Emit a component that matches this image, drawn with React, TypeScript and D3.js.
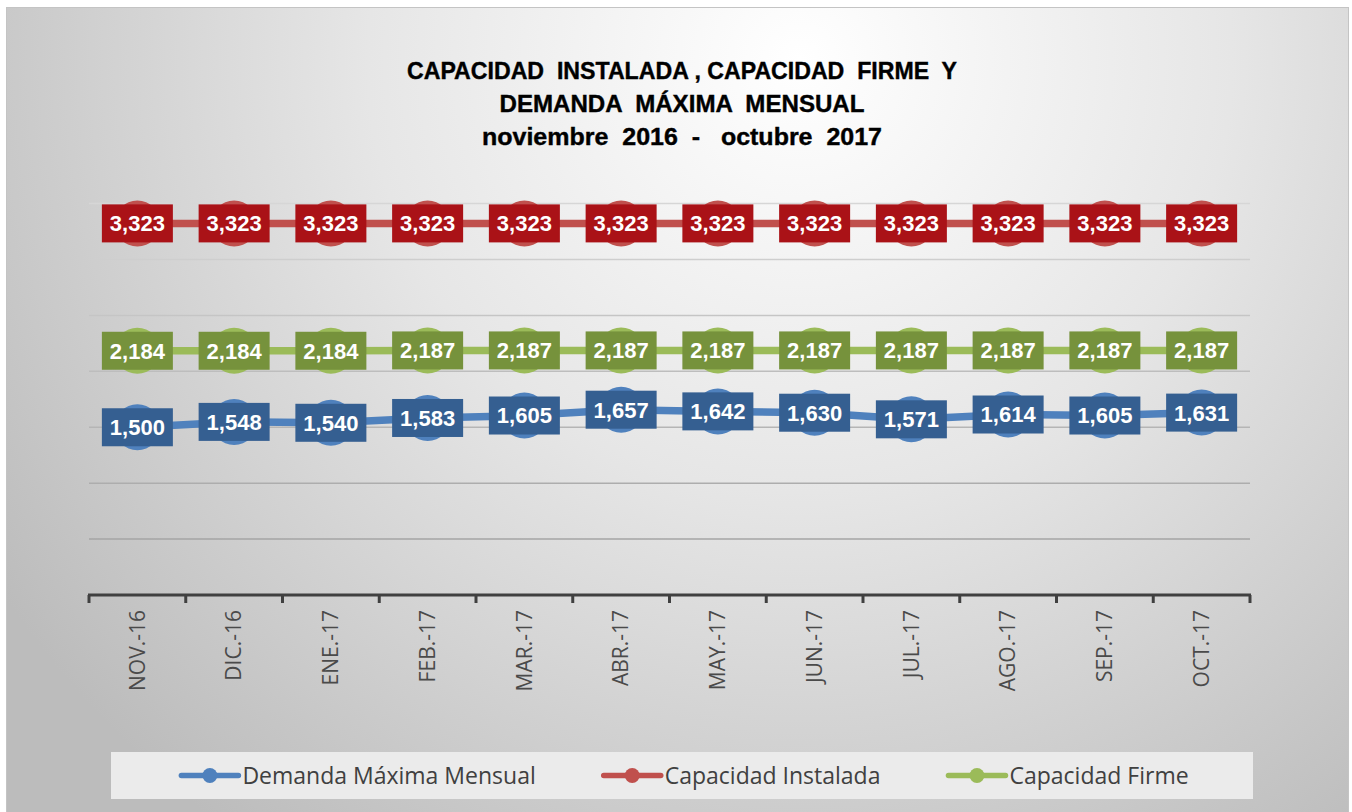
import React from 'react';
import * as d3 from 'd3';

// chart data
const months = ['NOV.-16', 'DIC.-16', 'ENE.-17', 'FEB.-17', 'MAR.-17', 'ABR.-17', 'MAY.-17', 'JUN.-17', 'JUL.-17', 'AGO.-17', 'SEP.-17', 'OCT.-17'];
const demandaMaxima = [1500, 1548, 1540, 1583, 1605, 1657, 1642, 1630, 1571, 1614, 1605, 1631];
const capacidadInstalada = [3323, 3323, 3323, 3323, 3323, 3323, 3323, 3323, 3323, 3323, 3323, 3323];
const capacidadFirme = [2184, 2184, 2184, 2187, 2187, 2187, 2187, 2187, 2187, 2187, 2187, 2187];
const gridTicks = [0, 500, 1000, 1500, 2000, 2500, 3000, 3500];
const titleLines = [
  'CAPACIDAD  INSTALADA , CAPACIDAD  FIRME  Y',
  'DEMANDA  MÁXIMA  MENSUAL',
  'noviembre  2016  -   octubre  2017',
];

const series = [
  { name: 'Demanda Máxima Mensual', values: demandaMaxima, line: '#4f81bd', box: '#355f91' },
  { name: 'Capacidad Instalada', values: capacidadInstalada, line: '#c0504d', box: '#aa1217' },
  { name: 'Capacidad Firme', values: capacidadFirme, line: '#9bbb59', box: '#76923c' },
];

const W = 1352;
const H = 812;
const margin = { left: 89, right: 102, top: 203.6, bottom: 217 };

const legendFont = '23px "Open Sans"';

function measure(text, font) {
  const ctx = document.createElement('canvas').getContext('2d');
  ctx.font = font;
  return ctx.measureText(text).width;
}

export default function App() {
  const x = d3.scaleBand().domain(months).range([margin.left, W - margin.right]);
  const y = d3.scaleLinear().domain([0, 3500]).range([H - margin.bottom, margin.top]);
  const fmt = d3.format(',');
  const gridColor = d3.scaleLinear().domain([0, 3500]).range(['#9c9c9c', '#d6d6d6']);

  const line = d3.line()
    .x((d, i) => x(months[i]) + x.bandwidth() / 2)
    .y(d => y(d));

  // legend layout: symbol 57px, gap 4px, text, 68px gap
  const itemWidths = series.map(s => 61 + measure(s.name, legendFont));
  const gap = 68;
  const totalLegend = d3.sum(itemWidths) + gap * (series.length - 1);
  let lx = 685 - totalLegend / 2;
  const legendPos = itemWidths.map(w => { const p = lx; lx += w + gap; return p; });

  const boxW = 71, boxH = 38;

  return (
    <svg width={W} height={H} style={{ position: 'absolute', left: 0, top: 0 }}>
      <defs>
        <radialGradient id="bg" gradientUnits="userSpaceOnUse" cx="800" cy="60" r="960">
          <stop offset="0" stopColor="#ffffff" />
          <stop offset="0.45" stopColor="#e6e6e6" />
          <stop offset="1" stopColor="#bcbcbc" />
        </radialGradient>
      </defs>
      <rect x={0} y={0} width={W} height={H} fill="#fff" />
      <rect x={6.5} y={7.5} width={1342} height={H} fill="url(#bg)" stroke="#c4c4c4" strokeWidth={1} />

      {/* title */}
      <g fontFamily='"Liberation Sans", Arial, sans-serif' fontWeight="bold" fontSize={24} fill="#000" textAnchor="middle"
        stroke="#000" strokeWidth={0.4}>
        {titleLines.map((t, i) => (
          <text key={i} x={682} y={79 + i * 33} style={{ whiteSpace: 'pre' }}
            textLength={[550, 365, 400][i]} lengthAdjust="spacingAndGlyphs">{t}</text>
        ))}
      </g>

      {/* gridlines */}
      {gridTicks.filter(t => t > 0).map(t => (
        <line key={t} x1={margin.left} x2={W - margin.right} y1={y(t)} y2={y(t)}
          stroke={gridColor(t)} strokeWidth={1.5} />
      ))}

      {/* x axis */}
      <line x1={margin.left - 1} x2={W - margin.right + 1} y1={y(0)} y2={y(0)} stroke="#404040" strokeWidth={3} />
      {d3.range(months.length + 1).map(i => {
        const tx = margin.left + i * x.step();
        return <line key={i} x1={tx} x2={tx} y1={y(0)} y2={y(0) + 8} stroke="#404040" strokeWidth={3} />;
      })}
      {months.map(m => (
        <text key={m} transform={`translate(${x(m) + x.bandwidth() / 2},${y(0) + 15}) rotate(-90)`}
          textAnchor="end" dy="0.35em" fontFamily='"Open Sans", sans-serif' fontSize={21} fill="#4a4a4a">{m}</text>
      ))}

      {/* series lines and markers */}
      {series.map(s => (
        <g key={s.name}>
          <path d={line(s.values)} fill="none" stroke={s.line} strokeWidth={7.5} strokeLinejoin="round" />
          {s.values.map((v, i) => (
            <circle key={i} cx={x(months[i]) + x.bandwidth() / 2} cy={y(v)} r={23} fill={s.line} />
          ))}
        </g>
      ))}

      {/* data labels */}
      {series.map(s => (
        <g key={s.name + '-labels'}>
          {s.values.map((v, i) => {
            const cx = x(months[i]) + x.bandwidth() / 2;
            return (
              <g key={i}>
                <rect x={cx - boxW / 2} y={y(v) - boxH / 2} width={boxW} height={boxH} fill={s.box} />
                <text x={cx} y={y(v)} dy="0.36em" textAnchor="middle" fill="#fff"
                  fontFamily='"Liberation Sans", Arial, sans-serif' fontWeight="bold" fontSize={22}>{fmt(v)}</text>
              </g>
            );
          })}
        </g>
      ))}

      {/* legend */}
      <rect x={111} y={752} width={1142} height={47} fill="#ebebeb" />
      {series.map((s, i) => {
        const p = legendPos[i];
        return (
          <g key={s.name + '-legend'}>
            <line x1={p} x2={p + 57} y1={775.5} y2={775.5} stroke={s.line} strokeWidth={5.5} strokeLinecap="round" />
            <circle cx={p + 28.5} cy={775.5} r={7.5} fill={s.line} />
            <text x={p + 61} y={775.5} dy="0.35em" fontFamily='"Open Sans", sans-serif' fontSize={23} fill="#404040">{s.name}</text>
          </g>
        );
      })}
    </svg>
  );
}
